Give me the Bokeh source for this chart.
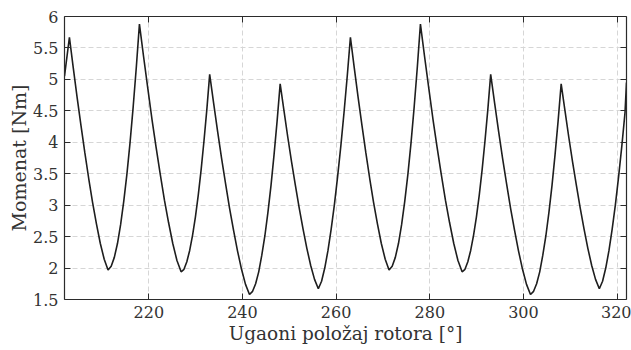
from bokeh.plotting import figure
from bokeh.models import LinearAxis, FixedTicker, NumeralTickFormatter, Range1d
from bokeh.embed import file_html
from bokeh.resources import INLINE

# Rotor angle [deg] and torque [Nm]
angle = [
    202.0, 203.05,
    203.88, 204.70, 205.53, 206.35, 207.18, 208.00, 208.83, 209.65, 210.48, 211.3,
    211.97, 212.64, 213.31, 213.98, 214.65, 215.32, 215.99, 216.66, 217.33, 218.0,
    218.89, 219.78, 220.67, 221.56, 222.45, 223.34, 224.23, 225.12, 226.01, 226.9,
    227.51, 228.12, 228.73, 229.34, 229.95, 230.56, 231.17, 231.78, 232.39, 233.0,
    233.85, 234.70, 235.55, 236.40, 237.25, 238.10, 238.95, 239.80, 240.65, 241.5,
    242.16, 242.81, 243.47, 244.12, 244.78, 245.43, 246.09, 246.74, 247.40, 248.05,
    248.87, 249.68, 250.50, 251.31, 252.13, 252.94, 253.76, 254.57, 255.39, 256.2,
    256.89, 257.57, 258.26, 258.94, 259.63, 260.31, 261.00, 261.68, 262.37, 263.05,
    263.88, 264.70, 265.53, 266.35, 267.18, 268.00, 268.83, 269.65, 270.48, 271.3,
    271.97, 272.64, 273.31, 273.98, 274.65, 275.32, 275.99, 276.66, 277.33, 278.0,
    278.89, 279.78, 280.67, 281.56, 282.45, 283.34, 284.23, 285.12, 286.01, 286.9,
    287.51, 288.12, 288.73, 289.34, 289.95, 290.56, 291.17, 291.78, 292.39, 293.0,
    293.85, 294.70, 295.55, 296.40, 297.25, 298.10, 298.95, 299.80, 300.65, 301.5,
    302.16, 302.81, 303.47, 304.12, 304.78, 305.43, 306.09, 306.74, 307.40, 308.05,
    308.87, 309.68, 310.50, 311.31, 312.13, 312.94, 313.76, 314.57, 315.39, 316.2,
    316.89, 317.57, 318.26, 318.94, 319.63, 320.31, 321.00, 321.68, 322.0,
]
torque = [
    5.05, 5.67,
    5.18, 4.71, 4.26, 3.83, 3.42, 3.04, 2.70, 2.39, 2.14, 1.97,
    2.03, 2.17, 2.39, 2.69, 3.06, 3.49, 3.99, 4.56, 5.19, 5.88,
    5.36, 4.86, 4.37, 3.92, 3.49, 3.08, 2.72, 2.39, 2.12, 1.94,
    1.98, 2.10, 2.28, 2.52, 2.81, 3.16, 3.56, 4.02, 4.52, 5.08,
    4.62, 4.17, 3.74, 3.34, 2.95, 2.60, 2.27, 1.98, 1.74, 1.58,
    1.63, 1.75, 1.94, 2.20, 2.51, 2.88, 3.31, 3.80, 4.34, 4.93,
    4.50, 4.08, 3.68, 3.31, 2.95, 2.62, 2.31, 2.04, 1.82, 1.67,
    1.79, 2.00, 2.28, 2.62, 3.01, 3.45, 3.94, 4.47, 5.05, 5.67,
    5.18, 4.71, 4.26, 3.83, 3.42, 3.04, 2.70, 2.39, 2.14, 1.97,
    2.03, 2.17, 2.39, 2.69, 3.06, 3.49, 3.99, 4.56, 5.19, 5.88,
    5.36, 4.86, 4.37, 3.92, 3.49, 3.08, 2.72, 2.39, 2.12, 1.94,
    1.98, 2.10, 2.28, 2.52, 2.81, 3.16, 3.56, 4.02, 4.52, 5.08,
    4.62, 4.17, 3.74, 3.34, 2.95, 2.60, 2.27, 1.98, 1.74, 1.58,
    1.63, 1.75, 1.94, 2.20, 2.51, 2.88, 3.31, 3.80, 4.34, 4.93,
    4.50, 4.08, 3.68, 3.31, 2.95, 2.62, 2.31, 2.04, 1.82, 1.67,
    1.79, 2.00, 2.28, 2.62, 3.01, 3.45, 3.94, 4.47, 4.95,
]
x_ticks = [220, 240, 260, 280, 300, 320]
y_ticks = [1.5, 2, 2.5, 3, 3.5, 4, 4.5, 5, 5.5, 6]
x_label = "Ugaoni položaj rotora [°]"
y_label = "Momenat [Nm]"

FONT = "DejaVu Serif"
TXT = "#333333"
AX = "#2b2b2b"

p = figure(width=631, height=350, x_range=Range1d(202, 322), y_range=Range1d(1.5, 6),
           output_backend="svg", toolbar_location=None,
           min_border_left=64, min_border_right=5, min_border_top=16, min_border_bottom=51)
p.outline_line_color = None
p.background_fill_color = "white"
p.border_fill_color = "white"

def style(ax, ticks, labels=True):
    ax.ticker = FixedTicker(ticks=ticks)
    ax.major_tick_in = 6
    ax.major_tick_out = 0
    ax.minor_tick_line_color = None
    ax.axis_line_color = AX
    ax.axis_line_width = 1.2
    ax.major_tick_line_color = AX
    ax.major_label_text_font = FONT
    ax.major_label_text_color = TXT
    ax.axis_label_text_font = FONT
    ax.axis_label_text_color = TXT
    ax.axis_label_text_font_style = "normal"
    ax.formatter = NumeralTickFormatter(format="0.[0]")
    if not labels:
        ax.major_label_text_color = None
        ax.major_label_text_font_size = "0px"
        ax.major_label_standoff = 0

xa = p.xaxis[0]
ya = p.yaxis[0]
style(xa, x_ticks)
style(ya, y_ticks)
xa.axis_label = x_label
ya.axis_label = y_label
xa.major_label_text_font_size = "16px"
ya.major_label_text_font_size = "16px"
xa.axis_label_text_font_size = "18.5px"
ya.axis_label_text_font_size = "19px"
xa.major_label_standoff = 6
ya.major_label_standoff = 6
xa.axis_label_standoff = 2
ya.axis_label_standoff = 0

top = LinearAxis()
style(top, x_ticks, labels=False)
p.add_layout(top, "above")
right = LinearAxis()
style(right, y_ticks, labels=False)
p.add_layout(right, "right")

p.xgrid[0].ticker = FixedTicker(ticks=x_ticks)
p.ygrid[0].ticker = FixedTicker(ticks=y_ticks)
for g in (p.xgrid[0], p.ygrid[0]):
    g.grid_line_color = "#d6d6d6"
    g.grid_line_dash = "5 3"
    g.grid_line_width = 1

p.line(angle, torque, line_color="#1e1e1e", line_width=1.6)

open("out.html", "w").write(file_html(p, INLINE))
